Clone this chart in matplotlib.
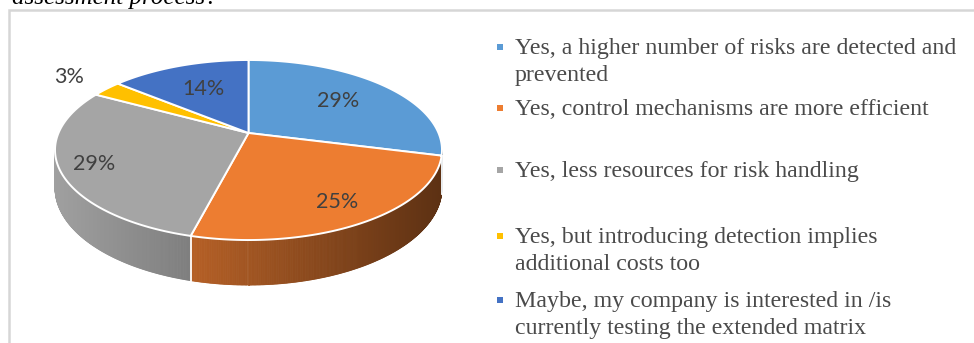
import numpy as np
import matplotlib
matplotlib.use("Agg")
import matplotlib.pyplot as plt
from matplotlib.collections import PolyCollection
from matplotlib.colors import to_rgb

# ---------------- data ----------------
categories = [
    "Yes, a higher number of risks are detected and prevented",
    "Yes, control mechanisms are more efficient",
    "Yes, less resources for risk handling",
    "Yes, but introducing detection implies additional costs too",
    "Maybe, my company is interested in /is currently testing the extended matrix",
]
values = [29, 25, 29, 3, 14]
pct_labels = ["29%", "25%", "29%", "3%", "14%"]
legend_lines = [
    ["Yes, a higher number of risks are detected and", "prevented"],
    ["Yes, control mechanisms are more efficient"],
    ["Yes, less resources for risk handling"],
    ["Yes, but introducing detection implies", "additional costs too"],
    ["Maybe, my company is interested in /is", "currently testing the extended matrix"],
]
colors = ["#5B9BD5", "#ED7D31", "#A5A5A5", "#FFC000", "#4472C4"]

# ---------------- layout / style ----------------
W, H = 974, 343
fig = plt.figure(figsize=(W / 100, H / 100), dpi=100)
ax = fig.add_axes([0, 0, 1, 1])
ax.set_xlim(0, W)
ax.set_ylim(H, 0)
ax.axis("off")

# chart frame (continues beyond the image right/bottom)
ax.plot([9, 9, W + 5], [H + 5, 10, 10], color="#d6d6d6", lw=1.8,
        solid_joinstyle="miter", zorder=1)
# cropped caption above the frame
ax.text(12, 4, "assessment process?", fontsize=18, style="italic",
        family="Liberation Serif", color="#000000", va="baseline", ha="left")

CX, CY, A, B, P, D = 248.5, 133.0, 190.0, 86.8, 0.189, 36.5


def proj(t, r=1.0, z=0.0):
    X = r * np.cos(t)
    Y = r * np.sin(t)
    s = 1.0 / (1.0 + P * Y)
    return CX + A * X * s, CY + (-B * Y + D * z) * s


vals = np.array(values, dtype=float)
cum = np.concatenate([[0], np.cumsum(vals)]) / vals.sum() * 360.0
bounds = np.deg2rad(90.0 - cum)  # clockwise from 12 o'clock


def slice_of(t):
    u = (90.0 - np.rad2deg(t)) % 360.0
    return int(np.clip(np.searchsorted(cum, u, side="right") - 1, 0, len(vals) - 1))


# ---- side (extrusion) ----
tl = np.arcsin(P)
ts = np.linspace(-np.pi + tl, -tl, 500)
xmin = CX - A / np.sqrt(1 - P * P)
xmax = CX + A / np.sqrt(1 - P * P)
polys, fcs = [], []
for t0, t1 in zip(ts[:-1], ts[1:]):
    tm = 0.5 * (t0 + t1)
    k = slice_of(tm)
    x0, y0 = proj(t0, 1, 0)
    x1, y1 = proj(t1, 1, 0)
    x2, y2 = proj(t1, 1, 1)
    x3, y3 = proj(t0, 1, 1)
    xm = proj(tm, 1, 0)[0]
    frac = (xm - xmin) / (xmax - xmin)
    f = 0.97 - 0.58 * frac
    c = np.clip(np.array(to_rgb(colors[k])) * f, 0, 1)
    polys.append([(x0, y0), (x1, y1), (x2, y2), (x3, y3)])
    fcs.append(c)
ax.add_collection(PolyCollection(polys, facecolors=fcs, edgecolors=fcs,
                                 linewidths=0.6, zorder=2))
# white seams on the side at slice boundaries
for b in bounds:
    bb = np.arctan2(np.sin(b), np.cos(b))
    if -np.pi + tl < bb < -tl:
        xa, ya = proj(bb, 1, 0)
        xb, yb = proj(bb, 1, 1)
        ax.plot([xa, xb], [ya, yb], color="white", lw=1.3, zorder=3)

# ---- top surface ----
for k in range(len(vals)):
    a0, a1 = bounds[k], bounds[k + 1]
    tt = np.linspace(a0, a1, 200)
    xs, ys = proj(tt, 1, 0)
    px = np.concatenate([[CX], xs, [CX]])
    py = np.concatenate([[CY], ys, [CY]])
    ax.fill(px, py, facecolor=colors[k], edgecolor="white", lw=1.4,
            joinstyle="round", zorder=4)

# ---- data labels ----
label_r = [0.64, 0.80, 0.83, 1.30, 0.62]
for k in range(len(vals)):
    mid = 0.5 * (bounds[k] + bounds[k + 1])
    lx, ly = proj(mid, label_r[k], 0)
    ax.text(lx, ly, pct_labels[k], fontsize=15.5, family="Lato",
            color="#404040", ha="center", va="center", zorder=5)

# ---- legend ----
entry_baselines = [54, 115, 177, 243, 307]
line_gap = 27
for k, lines in enumerate(legend_lines):
    yb = entry_baselines[k]
    ax.add_patch(plt.Rectangle((497, yb - 10), 5.5, 5.5, facecolor=colors[k],
                               edgecolor="none", zorder=5))
    for j, ln in enumerate(lines):
        ax.text(515, yb + j * line_gap, ln, fontsize=17.2, family="Liberation Serif",
                color="#4a4a4a", ha="left", va="baseline", zorder=5)

fig.savefig("out.png", dpi=100)
